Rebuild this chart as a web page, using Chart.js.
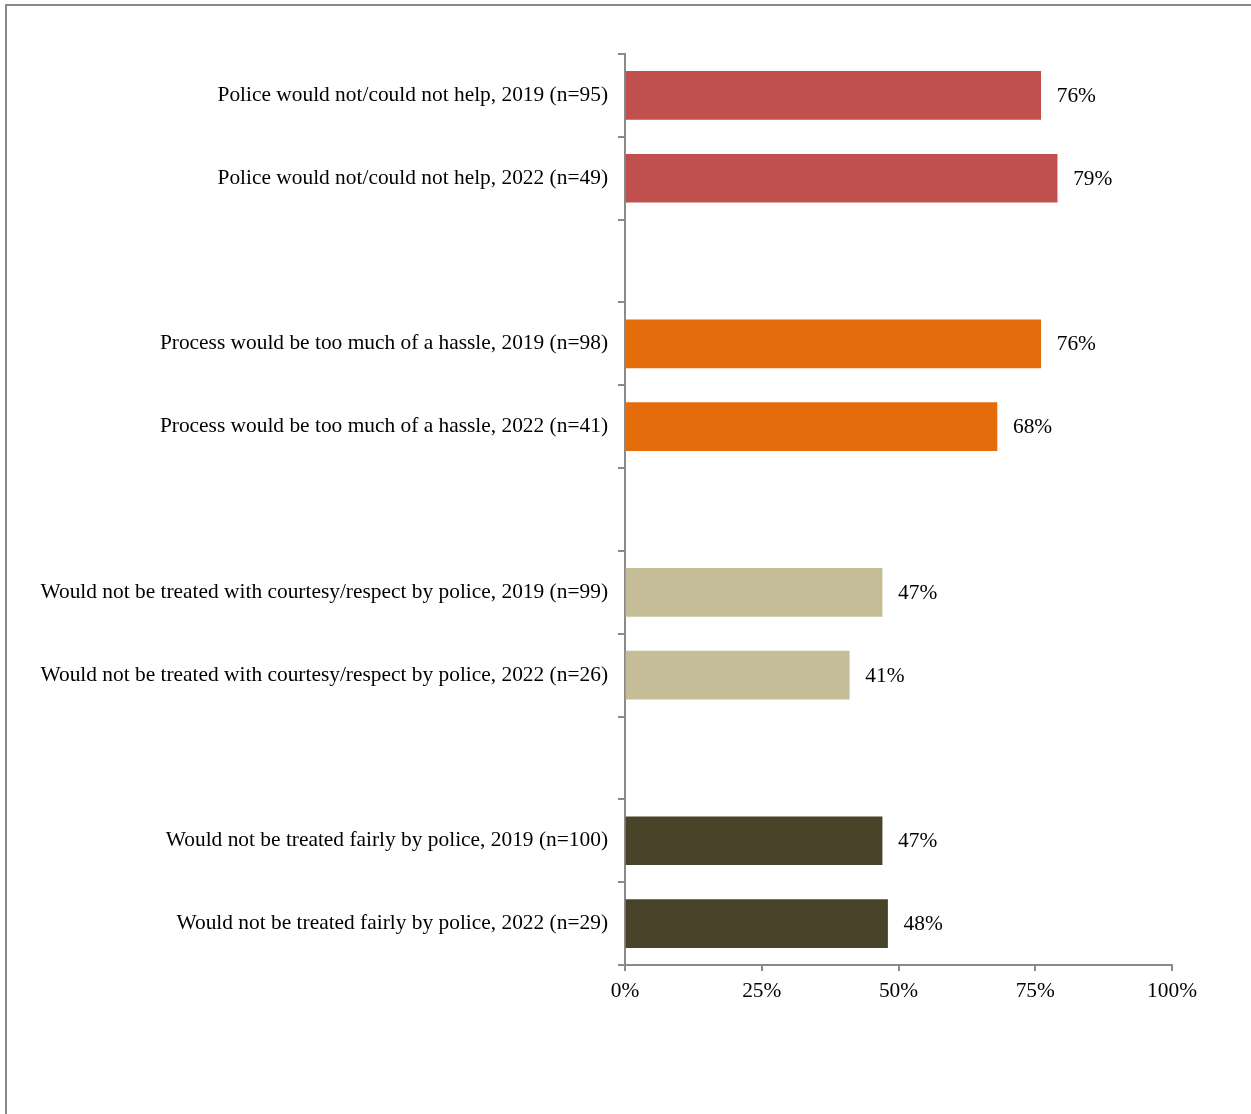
<!DOCTYPE html>
<html>
<head>
<meta charset="utf-8">
<script src="https://cdn.jsdelivr.net/npm/chart.js@4/dist/chart.umd.min.js"></script>
<style>
    html, body { margin: 0; padding: 0; background: #fff; overflow: hidden; }
    #wrap { position: relative; width: 1251px; height: 1114px; }
    #frame {
        position: absolute; left: 5px; top: 4px; width: 1300px; height: 1200px;
        border-left: 2px solid #888; border-top: 2px solid #888;
    }
    #chartCanvas { position: absolute; left: 0; top: 0; }
</style>
</head>
<body>
<div id="wrap">
    <div id="frame"></div>
    <canvas id="chartCanvas" width="1251" height="1114"></canvas>
</div>
<script>
// blank entries leave a gap between each pair of years
const categories = [
    'Police would not/could not help, 2019 (n=95)',
    'Police would not/could not help, 2022 (n=49)',
    '',
    'Process would be too much of a hassle, 2019 (n=98)',
    'Process would be too much of a hassle, 2022 (n=41)',
    '',
    'Would not be treated with courtesy/respect by police, 2019 (n=99)',
    'Would not be treated with courtesy/respect by police, 2022 (n=26)',
    '',
    'Would not be treated fairly by police, 2019 (n=100)',
    'Would not be treated fairly by police, 2022 (n=29)'
];
const percents = [76, 79, null, 76, 68, null, 47, 41, null, 47, 48];
const barColors = ['#C0504D', '#C0504D', null, '#E46C0A', '#E46C0A', null,
    '#C4BD97', '#C4BD97', null, '#494429', '#494429'];
const xTicks = [0, 25, 50, 75, 100];

const FONT = "'Liberation Serif', 'Times New Roman', serif";
const FONT_SIZE = 21.4;
const AXIS_GRAY = '#8a8a8a';

// writes "NN%" just past the end of each bar
const valueLabels = {
    id: 'valueLabels',
    afterDatasetsDraw(chart) {
        const ctx = chart.ctx;
        const meta = chart.getDatasetMeta(0);
        ctx.save();
        ctx.font = FONT_SIZE + 'px ' + FONT;
        ctx.fillStyle = '#000';
        ctx.textAlign = 'left';
        ctx.textBaseline = 'middle';
        meta.data.forEach((bar, i) => {
            const v = percents[i];
            if (v === null) return;
            ctx.fillText(v + '%', bar.x + 16, bar.y + 1);
        });
        ctx.restore();
    }
};

const config = {
    type: 'bar',
    data: {
        labels: categories,
        datasets: [{
            data: percents,
            backgroundColor: barColors,
            borderWidth: 0,
            barThickness: 48
        }]
    },
    options: {
        indexAxis: 'y',
        responsive: false,
        animation: false,
        layout: { padding: { top: 54, right: 79, bottom: 108, left: 0 } },
        plugins: { legend: { display: false }, tooltip: { enabled: false } },
        scales: {
            x: {
                min: 0,
                max: 100,
                afterBuildTicks(scale) {
                    scale.ticks = xTicks.map(v => ({ value: v }));
                },
                afterFit(scale) { scale.height = 41; },
                border: { color: AXIS_GRAY, width: 2 },
                grid: { drawOnChartArea: false, tickLength: 6, color: AXIS_GRAY, lineWidth: 2 },
                ticks: {
                    callback: v => v + '%',
                    color: '#000',
                    font: { family: FONT, size: FONT_SIZE },
                    padding: 8,
                    maxRotation: 0
                }
            },
            y: {
                afterFit(scale) { scale.width = 625; },
                border: { color: AXIS_GRAY, width: 2 },
                grid: { offset: true, drawOnChartArea: false, tickLength: 7, color: AXIS_GRAY, lineWidth: 2 },
                ticks: {
                    color: '#000',
                    font: { family: FONT, size: FONT_SIZE },
                    padding: 10,
                    autoSkip: false
                }
            }
        }
    },
    plugins: [valueLabels]
};

const myChart = new Chart(document.getElementById('chartCanvas'), config);
</script>
</body>
</html>
